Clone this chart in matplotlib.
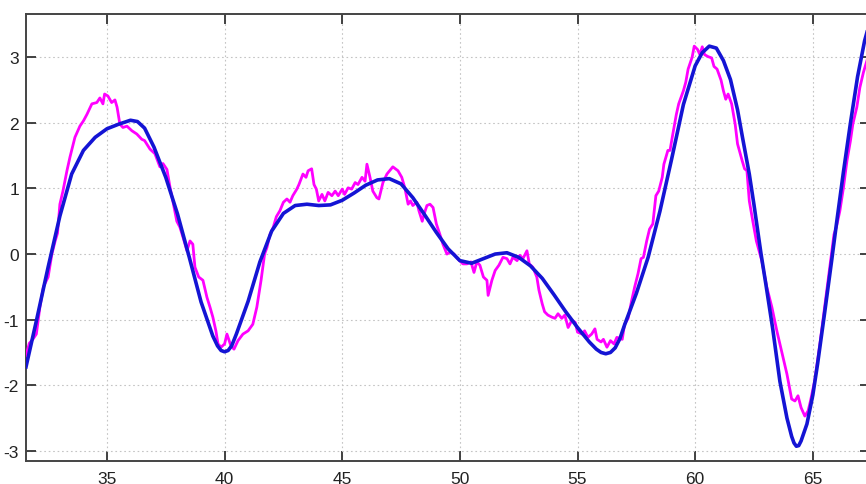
import matplotlib
matplotlib.use("Agg")
import matplotlib.pyplot as plt

# smooth fitted signal (blue)
fit_x = [31.56, 32.0, 32.5, 33.0, 33.5, 34.0, 34.5, 35.0, 35.5, 36.0, 36.3, 36.6,
         37.0, 37.5, 38.0, 38.5, 39.0, 39.5, 39.7, 39.85, 40.0, 40.15, 40.3, 40.5,
         41.0, 41.5, 42.0, 42.5, 43.0, 43.5, 44.0, 44.5, 45.0, 45.5, 46.0, 46.5,
         47.0, 47.5, 48.0, 48.5, 49.0, 49.5, 50.0, 50.5, 51.0, 51.5, 52.0, 52.5,
         53.0, 53.5, 54.0, 54.5, 55.0, 55.5, 55.8, 56.0, 56.2, 56.4, 56.6, 56.8,
         57.0, 57.5, 58.0, 58.5, 59.0, 59.5, 60.0, 60.3, 60.6, 60.9, 61.2, 61.5,
         61.8, 62.0, 62.3, 62.5, 62.8, 63.0, 63.3, 63.6, 63.9, 64.1, 64.2, 64.3,
         64.4, 64.5, 64.75, 65.0, 65.2, 65.5, 65.8, 66.0, 66.3, 66.6, 66.9, 67.2,
         67.43]
fit_y = [-1.72, -1.02, -0.2, 0.58, 1.22, 1.58, 1.78, 1.91, 1.98, 2.04, 2.02, 1.92,
         1.63, 1.17, 0.61, -0.05, -0.73, -1.25, -1.4, -1.47, -1.49, -1.47, -1.4, -1.22,
         -0.72, -0.12, 0.35, 0.62, 0.74, 0.76, 0.74, 0.75, 0.82, 0.93, 1.05, 1.13,
         1.15, 1.07, 0.86, 0.6, 0.33, 0.08, -0.1, -0.14, -0.07, 0.0, 0.02, -0.05,
         -0.18, -0.37, -0.62, -0.88, -1.12, -1.34, -1.45, -1.5, -1.52, -1.5, -1.43, -1.29,
         -1.08, -0.6, -0.05, 0.65, 1.45, 2.28, 2.87, 3.07, 3.17, 3.14, 2.95, 2.66,
         2.2, 1.8, 1.22, 0.75, 0.0, -0.45, -1.15, -1.94, -2.5, -2.78, -2.88, -2.93,
         -2.92, -2.85, -2.59, -2.15, -1.68, -0.9, -0.1, 0.45, 1.25, 2.0, 2.7, 3.25,
         3.55]

# noisy measured signal (magenta)
raw_x = [31.56, 31.7, 31.85, 32.0, 32.15, 32.3, 32.5, 32.66, 32.8, 32.9, 33.0, 33.13,
         33.3, 33.43, 33.64, 33.85, 34.0, 34.15, 34.36, 34.57, 34.7, 34.83, 34.9, 35.04,
         35.2, 35.34, 35.43, 35.55, 35.68, 35.85, 36.06, 36.27, 36.48, 36.6, 36.83, 37.04,
         37.25, 37.38, 37.55, 37.68, 37.8, 37.97, 38.1, 38.23, 38.4, 38.53, 38.65, 38.74,
         38.9, 39.08, 39.25, 39.38, 39.5, 39.63, 39.72, 39.85, 40.0, 40.1, 40.27, 40.4,
         40.57, 40.78, 41.0, 41.2, 41.37, 41.55, 41.7, 41.8, 41.93, 42.07, 42.2, 42.35,
         42.5, 42.65, 42.78, 42.9, 43.07, 43.16, 43.33, 43.46, 43.55, 43.7, 43.8, 43.9,
         44.0, 44.14, 44.26, 44.4, 44.56, 44.7, 44.83, 45.0, 45.1, 45.25, 45.4, 45.55,
         45.67, 45.84, 45.97, 46.05, 46.18, 46.3, 46.47, 46.56, 46.73, 46.9, 47.15, 47.37,
         47.53, 47.66, 47.8, 47.9, 48.0, 48.17, 48.26, 48.4, 48.47, 48.6, 48.73, 48.86,
         49.0, 49.15, 49.28, 49.45, 49.58, 49.75, 49.9, 50.13, 50.3, 50.47, 50.6, 50.72,
         50.85, 51.0, 51.15, 51.2, 51.36, 51.5, 51.66, 51.83, 52.0, 52.13, 52.25, 52.43,
         52.55, 52.68, 52.85, 52.95, 53.1, 53.27, 53.36, 53.5, 53.6, 53.74, 53.9, 54.04,
         54.17, 54.33, 54.46, 54.6, 54.76, 54.9, 55.0, 55.2, 55.3, 55.44, 55.6, 55.74,
         55.83, 56.0, 56.1, 56.25, 56.4, 56.55, 56.67, 56.9, 57.0, 57.15, 57.3, 57.43,
         57.57, 57.7, 57.8, 57.94, 58.06, 58.2, 58.33, 58.45, 58.6, 58.67, 58.84, 58.93,
         59.05, 59.2, 59.3, 59.5, 59.6, 59.7, 59.87, 59.96, 60.1, 60.2, 60.3, 60.4,
         60.55, 60.7, 60.8, 60.93, 61.1, 61.2, 61.3, 61.4, 61.55, 61.7, 61.8, 62.0,
         62.1, 62.2, 62.3, 62.45, 62.6, 62.83, 63.04, 63.26, 63.47, 63.7, 63.9, 64.1,
         64.24, 64.37, 64.5, 64.66, 64.8, 64.9, 65.08, 65.3, 65.5, 65.72, 65.9, 66.0,
         66.15, 66.3, 66.45, 66.6, 66.7, 66.87, 67.0, 67.15, 67.3, 67.43]
raw_y = [-1.55, -1.36, -1.3, -1.22, -0.81, -0.5, -0.35, 0.0, 0.2, 0.32, 0.76, 0.96,
         1.27, 1.48, 1.78, 1.95, 2.03, 2.13, 2.29, 2.31, 2.38, 2.29, 2.44, 2.41,
         2.31, 2.35, 2.24, 1.98, 1.93, 1.95, 1.88, 1.83, 1.75, 1.73, 1.6, 1.53,
         1.33, 1.38, 1.29, 1.02, 0.81, 0.5, 0.41, 0.26, 0.05, 0.2, 0.15, -0.2,
         -0.35, -0.4, -0.66, -0.81, -0.96, -1.17, -1.37, -1.42, -1.37, -1.22, -1.4, -1.45,
         -1.32, -1.22, -1.17, -1.07, -0.81, -0.4, 0.0, 0.1, 0.3, 0.41, 0.57, 0.66,
         0.79, 0.84, 0.79, 0.89, 0.99, 1.06, 1.22, 1.17, 1.27, 1.3, 1.06, 0.99,
         0.81, 0.91, 0.81, 0.94, 0.89, 0.96, 0.89, 0.99, 0.91, 1.01, 0.99, 1.09,
         1.06, 1.17, 1.11, 1.37, 1.17, 0.96, 0.86, 0.84, 1.09, 1.22, 1.33, 1.27,
         1.17, 1.01, 0.76, 0.81, 0.74, 0.79, 0.66, 0.5, 0.6, 0.74, 0.76, 0.71,
         0.46, 0.3, 0.15, 0.0, 0.03, 0.0, -0.07, -0.15, -0.15, -0.12, -0.28, -0.12,
         -0.17, -0.35, -0.4, -0.63, -0.4, -0.25, -0.17, -0.05, -0.07, -0.15, -0.05, -0.1,
         -0.02, -0.07, 0.05, -0.15, -0.2, -0.35, -0.55, -0.76, -0.88, -0.93, -0.96, -0.98,
         -0.91, -0.98, -0.93, -1.12, -1.01, -1.04, -1.19, -1.22, -1.17, -1.27, -1.22, -1.14,
         -1.3, -1.34, -1.3, -1.42, -1.32, -1.37, -1.27, -1.3, -1.07, -0.98, -0.71, -0.5,
         -0.3, -0.07, -0.05, 0.2, 0.38, 0.46, 0.89, 0.96, 1.17, 1.37, 1.58, 1.58,
         1.83, 2.13, 2.29, 2.49, 2.62, 2.82, 3.0, 3.17, 3.12, 3.04, 3.16, 3.04,
         3.01, 2.99, 2.86, 2.82, 2.65, 2.49, 2.36, 2.44, 2.29, 1.98, 1.68, 1.42,
         1.3, 1.27, 0.81, 0.5, 0.2, -0.1, -0.5, -0.81, -1.17, -1.52, -1.83, -2.21,
         -2.24, -2.16, -2.34, -2.47, -2.39, -2.24, -1.93, -1.37, -0.81, -0.2, 0.3, 0.41,
         0.66, 1.01, 1.42, 1.73, 1.98, 2.24, 2.54, 2.77, 2.95, 3.1]

x_ticks = [35, 40, 45, 50, 55, 60, 65]
y_ticks = [-3, -2, -1, 0, 1, 2, 3]

plt.rcParams['font.family'] = ['Liberation Sans', 'DejaVu Sans']
plt.rcParams['axes.unicode_minus'] = False

fig = plt.figure(figsize=(8.66, 4.85), dpi=100)
ax = fig.add_axes([26 / 866, 23 / 485, 844 / 866, 447 / 485])

ax.plot(raw_x, raw_y, color='#ff00ff', lw=2.0, zorder=3)
ax.plot(fit_x, fit_y, color='#1414d4', lw=2.6, zorder=4, solid_joinstyle='round')

ax.set_xlim(31.56, 67.43)
ax.set_ylim(-3.155, 3.66)
ax.set_xticks(x_ticks)
ax.set_yticks(y_ticks)
ax.grid(True, color='#c4c4c4', linestyle=(0, (1.5, 2.5)), linewidth=0.8)
ax.tick_params(direction='in', length=7, width=1.3, color='#333333',
               top=True, right=True, labelsize=12.5, labelcolor='#222222')
ax.tick_params(axis='x', pad=7)
ax.tick_params(axis='y', pad=5)
for s in ax.spines.values():
    s.set_color('#444444')
    s.set_linewidth(1.4)

fig.savefig('out.png', dpi=100)
